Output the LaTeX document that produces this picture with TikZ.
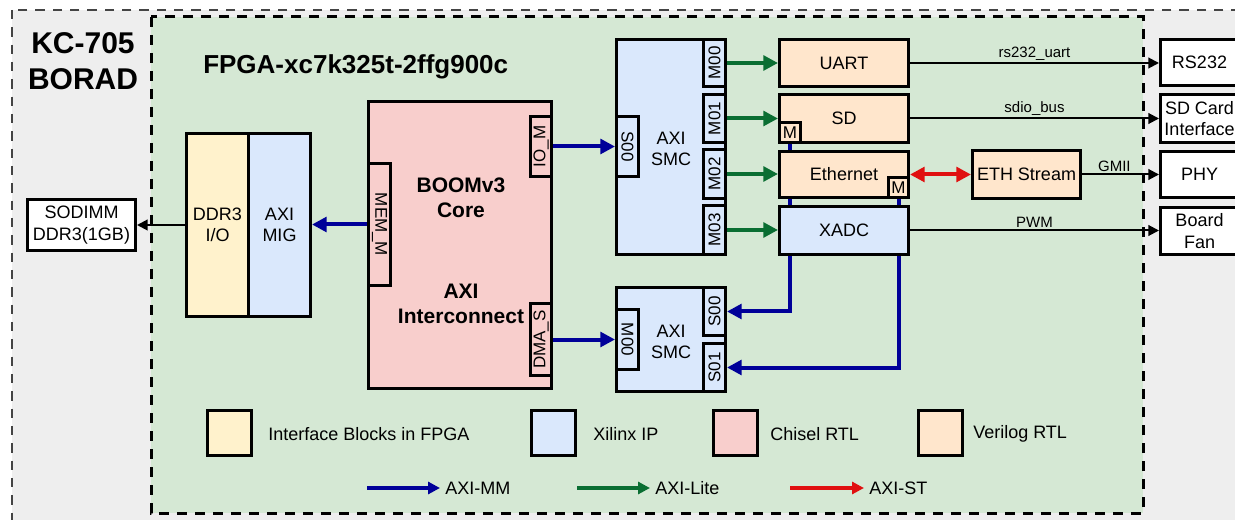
\documentclass[tikz,border=0pt]{standalone}
\usepackage{fontspec}
\setmainfont{Liberation Sans}
\usepackage{graphicx}
\usetikzlibrary{arrows.meta}
\definecolor{bggray}{HTML}{EEEEEE}
\definecolor{fpgagreen}{HTML}{D5E8D4}
\definecolor{ifyellow}{HTML}{FFF2CC}
\definecolor{ipblue}{HTML}{DAE8FC}
\definecolor{chiselred}{HTML}{F8CECC}
\definecolor{verorange}{HTML}{FFE6CC}
\definecolor{mmblue}{HTML}{000099}
\definecolor{litegreen}{HTML}{0A6E32}
\definecolor{stred}{HTML}{E01010}
\definecolor{dashgray}{HTML}{444444}
\pgfdeclarelayer{back}
\pgfdeclarelayer{mid}
\pgfsetlayers{back,mid,main}
\begin{document}
\begin{tikzpicture}[x=0.75pt,y=-0.75pt,
  bxat/.style n args={4}{anchor=north west, at={(#1,#2)},
    minimum width={(#3-#1-3)*0.75pt}, minimum height={(#4-#2-3)*0.75pt}},
  box/.style={draw=black, line width=2.25pt, inner sep=0pt, align=center,
    font=\fontsize{13.5}{16}\selectfont},
  port/.style={box, font=\fontsize{12.75}{15}\selectfont},
  boldtxt/.style={font=\fontsize{15.75}{19}\selectfont\bfseries, align=center},
  lbl/.style={font=\fontsize{11.25}{13}\selectfont, inner sep=1.5pt},
  lgtxt/.style={font=\fontsize{13.5}{16}\selectfont, anchor=west, inner sep=3.75pt},
  mm/.style={draw=mmblue, line width=3pt, -{Triangle[length=11pt,width=11pt]}},
  lite/.style={draw=litegreen, line width=3pt, -{Triangle[length=11pt,width=11pt]}},
  st/.style={draw=stred, line width=3pt, {Triangle[length=11pt,width=11pt]}-{Triangle[length=11pt,width=11pt]}},
  sig/.style={draw=black, line width=1.5pt, -{Triangle[length=8pt,width=8pt]}},
  lgarrow/.style={line width=3pt, -{Triangle[length=9pt,width=9pt]}}
]
\useasboundingbox (0,0) rectangle (1235,520);
\clip (0,0) rectangle (1235,520);

\begin{pgfonlayer}{back}
  \fill[white] (0,0) rectangle (1235,520);
  \draw[fill=bggray, draw=dashgray, line width=1.6pt, dash pattern=on 7pt off 6pt] (12,10) rectangle (1270,545);
  \draw[fill=fpgagreen, draw=black, line width=2.25pt, dash pattern=on 7.5pt off 6pt] (151,17) rectangle (1143,513);
\end{pgfonlayer}

% titles
\node[font=\fontsize{22.5}{27}\selectfont\bfseries, align=center] (board) at (83,61) {KC-705\\BORAD};
\node[font=\fontsize{19.5}{22}\selectfont\bfseries, anchor=base west, inner sep=0pt] (fpga) at (203,74) {FPGA-xc7k325t-2ffg900c};

% memory side
\node[box, fill=white, bxat={26}{198}{137}{252}] (sodimm) {SODIMM\\DDR3(1GB)};
\node[box, fill=ifyellow, bxat={185}{132}{250}{318}] (ddr) {DDR3\\I/O};
\node[box, fill=ipblue, bxat={247}{132}{312}{318}] (mig) {AXI\\MIG};

% BOOM
\node[box, fill=chiselred, bxat={367}{100}{553}{390}] (boom) {};
\node[boldtxt] (core) at (461,198) {BOOMv3\\Core};
\node[boldtxt] (ic) at (461,304) {AXI\\Interconnect};
\node[port, fill=chiselred, bxat={367}{162}{392}{287}] (memm) {\rotatebox{-90}{MEM\_M}};
\node[port, fill=chiselred, bxat={529}{115}{553}{178}] (iom) {\rotatebox{90}{IO\_M}};
\node[port, fill=chiselred, bxat={529}{302}{553}{377}] (dmas) {\rotatebox{90}{DMA\_S}};

% upper SMC
\node[box, fill=ipblue, bxat={615}{38}{727}{256}] (smcu) {};
\node[align=center, font=\fontsize{13.5}{16}\selectfont] (smcut) at (671,149) {AXI\\SMC};
\node[port, fill=ipblue, bxat={615}{115}{640}{178}] (s00u) {\rotatebox{-90}{S00}};
\node[port, fill=ipblue, bxat={702}{38}{727}{88}] (m00u) {\rotatebox{90}{M00}};
\node[port, fill=ipblue, bxat={702}{93}{727}{144}] (m01u) {\rotatebox{90}{M01}};
\node[port, fill=ipblue, bxat={702}{148}{727}{200}] (m02u) {\rotatebox{90}{M02}};
\node[port, fill=ipblue, bxat={702}{204}{727}{256}] (m03u) {\rotatebox{90}{M03}};

% lower SMC
\node[box, fill=ipblue, bxat={615}{286}{727}{393}] (smcl) {};
\node[align=center, font=\fontsize{13.5}{16}\selectfont] (smclt) at (671,342) {AXI\\SMC};
\node[port, fill=ipblue, bxat={615}{308}{640}{371}] (m00l) {\rotatebox{-90}{M00}};
\node[port, fill=ipblue, bxat={702}{286}{727}{337}] (s00l) {\rotatebox{90}{S00}};
\node[port, fill=ipblue, bxat={702}{342}{727}{393}] (s01l) {\rotatebox{90}{S01}};

% peripherals
\node[box, fill=verorange, bxat={778}{38}{910}{88}] (uart) {UART};
\node[box, fill=verorange, bxat={778}{93}{910}{144}] (sd) {SD};
\node[port, fill=verorange, bxat={778}{121}{802}{144}] (sdm) {M};
\node[box, fill=verorange, bxat={778}{150}{910}{199}] (eth) {Ethernet};
\node[port, fill=verorange, bxat={887}{176}{910}{199}] (ethm) {M};
\node[box, fill=ipblue, bxat={778}{205}{910}{256}] (xadc) {XADC};
\node[box, fill=verorange, bxat={971}{149}{1082}{200}] (ethst) {ETH Stream};

% board side
\node[box, fill=white, bxat={1159}{38}{1240}{87}] (rs) {RS232};
\node[box, fill=white, bxat={1159}{93}{1240}{144}] (sdc) {SD Card\\Interface};
\node[box, fill=white, bxat={1159}{150}{1240}{199}] (phy) {PHY};
\node[box, fill=white, bxat={1159}{206}{1240}{256}] (fan) {Board\\Fan};

% connectors
\draw[sig] (ddr.west) -- (ddr.west -| sodimm.east);
\draw[mm] (memm.west) -- (memm.west -| mig.east);
\draw[mm] (iom.east) -- (iom.east -| s00u.west);
\draw[mm] (dmas.east) -- (dmas.east -| m00l.west);
\draw[lite] (m00u.east) -- (m00u.east -| uart.west);
\draw[lite] (m01u.east) -- (m01u.east -| sd.west);
\draw[lite] (m02u.east) -- (m02u.east -| eth.west);
\draw[lite] (m03u.east) -- (m03u.east -| xadc.west);
\draw[st] (eth.east |- ethst.west) -- (ethst.west);
\draw[sig] (uart.east) -- (uart.east -| rs.west) node[lbl, midway, above] {rs232\_uart};
\draw[sig] (sd.east) -- (sd.east -| sdc.west) node[lbl, midway, above] {sdio\_bus};
\draw[sig] (ethst.east) -- (ethst.east -| phy.west) node[lbl, pos=0.42, above] {GMII};
\draw[sig] (xadc.east) -- (xadc.east -| fan.west) node[lbl, midway, above] {PWM};
\begin{pgfonlayer}{mid}
  \draw[mm] (sdm.south) |- (s00l.east);
  \draw[mm] (ethm.south) |- (s01l.east);
\end{pgfonlayer}

% legend
\node[box, fill=ifyellow, bxat={206}{409}{253}{457}] (lgy) {};
\node[lgtxt] (lgyt) at (263,434) {Interface Blocks in FPGA};
\node[box, fill=ipblue, bxat={530}{409}{577}{457}] (lgb) {};
\node[lgtxt] (lgbt) at (588,434) {Xilinx IP};
\node[box, fill=chiselred, bxat={712}{409}{759}{457}] (lgr) {};
\node[lgtxt] (lgrt) at (765,434) {Chisel RTL};
\node[box, fill=verorange, bxat={917}{409}{964}{457}] (lgo) {};
\node[lgtxt] (lgot) at (968,434) {Verilog RTL};

\coordinate (la1) at (367,488);
\node[lgtxt] (lmm) at (440,488) {AXI-MM};
\draw[lgarrow, draw=mmblue] (la1) -- (lmm.west);
\coordinate (la2) at (577,488);
\node[lgtxt] (llite) at (650,488) {AXI-Lite};
\draw[lgarrow, draw=litegreen] (la2) -- (llite.west);
\coordinate (la3) at (790,488);
\node[lgtxt] (lst) at (864,488) {AXI-ST};
\draw[lgarrow, draw=stred] (la3) -- (lst.west);
\end{tikzpicture}
\end{document}
